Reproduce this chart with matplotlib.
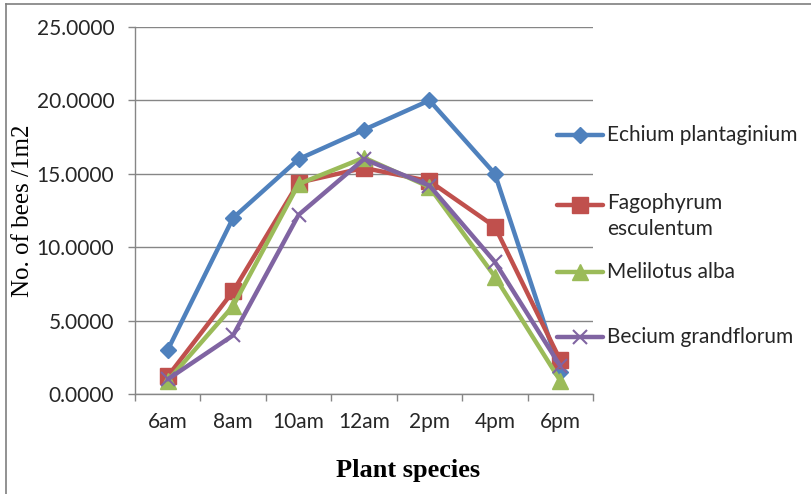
import matplotlib.pyplot as plt
from matplotlib.lines import Line2D

hours = ['6am', '8am', '10am', '12am', '2pm', '4pm', '6pm']
echium = [3.0, 12.0, 16.0, 18.0, 20.0, 15.0, 1.5]
fagopyrum = [1.2, 7.0, 14.4, 15.4, 14.5, 11.4, 2.3]
melilotus = [0.9, 6.0, 14.3, 16.1, 14.1, 8.0, 0.9]
becium = [1.0, 4.0, 12.2, 16.0, 14.2, 9.0, 1.9]
names = ['Echium plantaginium', 'Fagophyrum\nesculentum',
         'Melilotus alba', 'Becium grandflorum']

W, H = 812, 494
fig = plt.figure(figsize=(W / 100, H / 100), dpi=100)
ax = fig.add_axes([135 / W, 1 - 394 / H, (593 - 135) / W, (394 - 27) / H])

grey = '#868686'
txt = '#262626'
sans = 'Lato'

styles = [
    dict(color='#4F81BD', marker='D', ms=8.5, mec='#4F81BD'),
    dict(color='#C0504D', marker='s', ms=11, mec='#C0504D'),
    dict(color='#9BBB59', marker='^', ms=12, mec='#9BBB59'),
    dict(color='#8064A2', marker='x', ms=10, mew=1.5, mec='#8064A2'),
]
series = [echium, fagopyrum, melilotus, becium]
x = list(range(len(hours)))
for vals, st in zip(series, styles):
    ax.plot(x, vals, lw=3.2, solid_joinstyle='round', solid_capstyle='round',
            clip_on=False, **st)

ax.set_xlim(-0.5, len(hours) - 0.5)
ax.set_ylim(0, 25)
ax.set_yticks([0, 5, 10, 15, 20, 25])
ax.set_yticklabels(['%.4f' % v for v in [0, 5, 10, 15, 20, 25]])
ax.set_xticks(x)
ax.set_xticklabels(hours)
ax.set_xticks([i - 0.5 for i in range(len(hours) + 1)], minor=True)
ax.tick_params(axis='x', which='major', length=0, pad=13,
               labelsize=15, labelcolor=txt)
ax.tick_params(axis='x', which='minor', length=5, color=grey, width=1)
ax.tick_params(axis='y', length=5, color=grey, width=1, pad=10,
               labelsize=15, labelcolor=txt)
for lab in ax.get_xticklabels() + ax.get_yticklabels():
    lab.set_fontfamily(sans)

ax.grid(axis='y', color=grey, lw=1)
ax.set_axisbelow(True)
for side in ['top', 'right']:
    ax.spines[side].set_visible(False)
for side in ['left', 'bottom']:
    ax.spines[side].set_color(grey)
    ax.spines[side].set_linewidth(1)

ax.set_ylabel('No. of bees /1m2', family='Liberation Serif', fontsize=18,
              labelpad=2)
fig.text(408 / W, 1 - 470 / H, 'Plant species', family='Liberation Serif',
         fontsize=19, fontweight='bold', ha='center', va='center')

# legend drawn by hand so the wrapped entry lines up with its first line
rows = [135, 205, 272, 337]
for y, name, st in zip(rows, names, styles):
    yy = 1 - y / H
    key = Line2D([557 / W, 580 / W, 603 / W], [yy, yy, yy], lw=3.2,
                 solid_capstyle='round', markevery=[1],
                 transform=fig.transFigure, **st)
    fig.add_artist(key)
    if '\n' in name:
        fig.text(607 / W, yy + 12 / H, name, family=sans, fontsize=15,
                 color=txt, ha='left', va='top', linespacing=1.35)
    else:
        fig.text(607 / W, yy, name, family=sans, fontsize=15, color=txt,
                 ha='left', va='center')

# outer frame on top and left edges
fig.add_artist(Line2D([6 / W, 1], [1 - 4 / H, 1 - 4 / H], color='#7f7f7f',
                      lw=1.2, transform=fig.transFigure))
fig.add_artist(Line2D([6 / W, 6 / W], [0, 1 - 4 / H], color='#7f7f7f',
                      lw=1.2, transform=fig.transFigure))

fig.savefig('out.png', dpi=100)
